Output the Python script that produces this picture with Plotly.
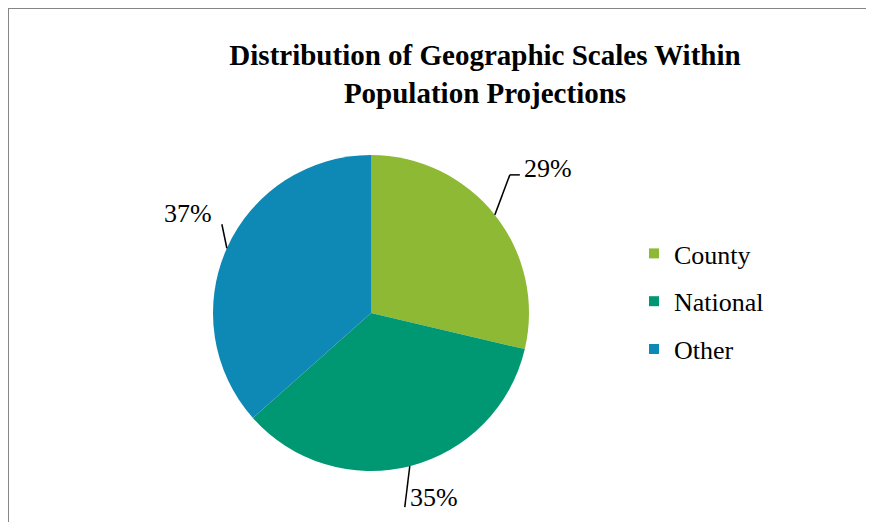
import math
import plotly.graph_objects as go

# ---- data ----
categories = ["County", "National", "Other"]
shares = [28.7, 34.8, 36.6]
colors = ["#8DB935", "#009873", "#0E88B4"]

W, H = 874, 522
FONT = "'Times New Roman', 'Liberation Serif', 'DejaVu Serif', serif"
OFF = 8  # page body margin

# pie geometry (pixels in the screenshot)
cx, cy, R = 371, 313, 158

def px2paper(x, y):
    return (x - OFF) / W, 1 - (y - OFF) / H

fig = go.Figure()
d0 = px2paper(cx - R, cy + R)
d1 = px2paper(cx + R, cy - R)
fig.add_trace(go.Pie(
    labels=categories, values=shares, sort=False, direction="clockwise",
    rotation=0, marker=dict(colors=colors, line=dict(width=0)),
    textinfo="none", hoverinfo="label+percent", showlegend=False,
    domain=dict(x=[d0[0], d1[0]], y=[d0[1], d1[1]]),
))

# legend via dummy traces (for spacing)
for c, col in zip(categories, colors):
    fig.add_trace(go.Scatter(
        x=[None], y=[None], mode="markers", name=c, legendgroup=c,
        marker=dict(symbol="square", size=10, color=col),
        showlegend=True,
    ))

total = sum(shares)
line_style = [
    dict(path=[(15, -40), (25, -40)], label=(27, -46), anchor="left"),
    dict(path=[(-5, 41)], label=(-2, 31), anchor="left"),
    dict(path=[(-5, -24)], label=(-13, -35), anchor="right"),
]
cum = 0
shapes = []
annotations = []
for v, st in zip(shares, line_style):
    mid = (cum + v / 2) / total * 2 * math.pi
    cum += v
    ex = cx + R * math.sin(mid)
    ey = cy - R * math.cos(mid)
    pts = [(ex, ey)] + [(ex + dx, ey + dy) for dx, dy in st["path"]]
    for (x0, y0), (x1, y1) in zip(pts[:-1], pts[1:]):
        a0 = px2paper(x0, y0)
        a1 = px2paper(x1, y1)
        shapes.append(dict(type="line", xref="paper", yref="paper",
                           x0=a0[0], y0=a0[1], x1=a1[0], y1=a1[1],
                           line=dict(color="black", width=1.5)))
    lx, ly = px2paper(ex + st["label"][0], ey + st["label"][1])
    annotations.append(dict(
        x=lx, y=ly, xref="paper", yref="paper", showarrow=False,
        text=f"{math.floor(v / total * 100 + 0.5)}%", xanchor=st["anchor"], yanchor="middle",
        font=dict(family=FONT, size=26, color="black"),
    ))

# frame lines (top and left)
fx, fy = px2paper(8, 8)
shapes.append(dict(type="line", xref="paper", yref="paper", x0=fx, x1=1, y0=fy, y1=fy,
                   line=dict(color="#868686", width=2)))
shapes.append(dict(type="line", xref="paper", yref="paper", x0=fx, x1=fx, y0=0, y1=fy,
                   line=dict(color="#868686", width=2)))

tx, ty = px2paper(485, 65)
lgx, lgy = px2paper(634, 230)
fig.update_layout(
    width=W, height=H,
    margin=dict(l=0, r=0, t=0, b=0),
    paper_bgcolor="white", plot_bgcolor="white",
    title=dict(text="<b>Distribution of Geographic Scales Within<br>Population Projections</b>",
               x=tx, xanchor="center", y=ty, yanchor="top",
               font=dict(family=FONT, size=29, color="black")),
    xaxis=dict(visible=False), yaxis=dict(visible=False),
    legend=dict(x=lgx, y=lgy, xanchor="left", yanchor="top",
                font=dict(family=FONT, size=26, color="black"),
                tracegroupgap=11, itemwidth=30, bgcolor="rgba(0,0,0,0)"),
    shapes=shapes, annotations=annotations,
)

fig.write_html("out.html")
